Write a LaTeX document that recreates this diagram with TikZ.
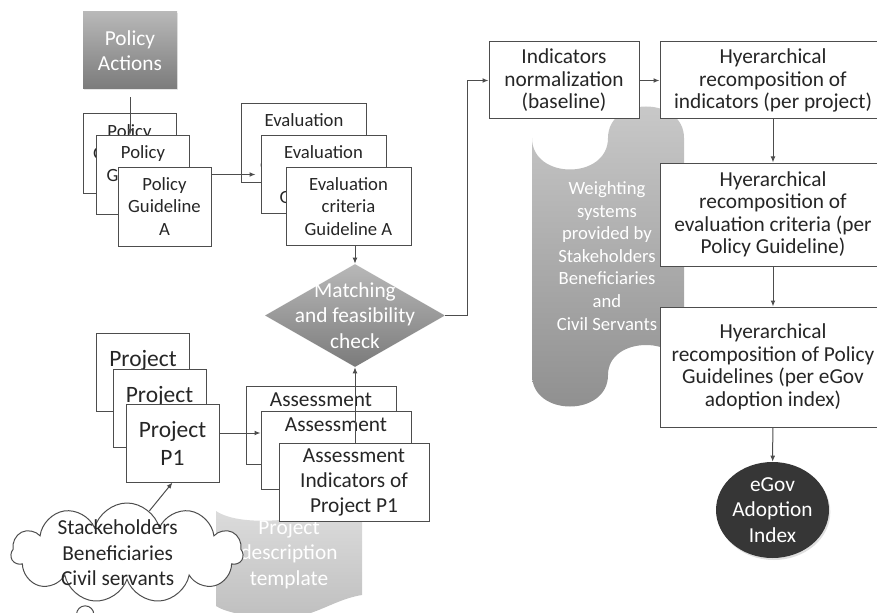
\documentclass[tikz,border=0pt]{standalone}
\usepackage{fontspec}
\setmainfont{Carlito}
\usetikzlibrary{shapes.geometric,shapes.symbols,shapes.callouts,arrows.meta,shadows}
\definecolor{edgegray}{HTML}{4D4D4D}
\definecolor{inkgray}{HTML}{262626}
\definecolor{padtop}{HTML}{B8B8B8}
\definecolor{padbot}{HTML}{7B7B7B}
\definecolor{wgttop}{HTML}{CACACA}
\definecolor{wgtbot}{HTML}{8E8E8E}
\definecolor{tpltop}{HTML}{DDDDDD}
\definecolor{tplbot}{HTML}{BEBEBE}
\definecolor{egovfill}{HTML}{363636}
\tikzset{
  pbox/.style={draw=edgegray, fill=white, line width=0.75pt, inner sep=0pt, align=center, text=inkgray},
  smalltxt/.style={font=\fontsize{14}{16.9}\selectfont},
  midtxt/.style={font=\fontsize{16}{19.1}\selectfont},
  tighttxt/.style={font=\fontsize{16}{16.9}\selectfont},
  bigtxt/.style={font=\fontsize{17.6}{21}\selectfont},
  polbox/.style={pbox, smalltxt, minimum width=69.75pt, minimum height=59.25pt},
  evalbox/.style={pbox, smalltxt, minimum width=93.75pt, minimum height=58.5pt},
  projbox/.style={pbox, bigtxt, minimum width=69.75pt, minimum height=58.5pt},
  assessbox/.style={pbox, midtxt, minimum width=112.5pt, minimum height=58.5pt},
  recbox/.style={pbox, tighttxt, minimum width=169.5pt},
  whitetxt/.style={midtxt, text=white, align=center},
  flow/.style={draw=edgegray, line width=0.75pt, -{Latex[length=4.5pt,width=3.6pt]}}
}

\begin{document}
\begin{tikzpicture}[x=0.75pt,y=-0.75pt]
\useasboundingbox (0,0) rectangle (877,613);
\clip (0,0) rectangle (877,613);
\shade[top color=wgttop, bottom color=wgtbot] (532,138) .. controls (532,180) and (608,180) .. (608,138) .. controls (608,96) and (684,96) .. (684,138) -- (684,375) .. controls (684,335) and (608,335) .. (608,375) .. controls (608,417) and (532,417) .. (532,375) -- cycle;
\node[whitetxt, smalltxt] (ws) at (607,256) {Weighting\\systems\\provided by\\Stakeholders\\Beneficiaries\\and\\Civil Servants};
\shade[top color=tpltop, bottom color=tplbot] (216,511) .. controls (240,527) and (300,522) .. (362,505) -- (362,595) .. controls (330,600) and (310,622) .. (270,618) .. controls (245,616) and (225,612) .. (216,606) -- cycle;
\node[whitetxt] (pd) at (289,554) {Project\\description\\template};

\node[pbox, midtxt, draw=none, text=white, top color=padtop, bottom color=padbot, minimum width=70.5pt, minimum height=57.75pt, drop shadow={opacity=0.2, shadow xshift=1pt, shadow yshift=-1pt}] (pa) at (130,50.5) {Policy\\Actions};
\node[polbox] (pg3) at (129.5,153.5) {Policy\\Guideline\\~};
\node[polbox] (pg2) at (143,175) {Policy\\Guideline\\~};
\node[polbox] (pg1) at (164.5,206.5) {Policy\\Guideline\\A};
\node[evalbox] (ev3) at (304,143) {Evaluation\\criteria\\Guideline\phantom{ A}};
\node[evalbox] (ev2) at (323.5,174.5) {Evaluation\\criteria\\Guideline\phantom{ A}};
\node[evalbox] (ev1) at (348.5,206.5) {Evaluation\\criteria\\Guideline A};
\node[diamond, top color=padtop, bottom color=padbot, minimum width=135pt, minimum height=77.25pt, inner sep=0pt, label={[whitetxt]center:Matching\\and feasibility\\check}] (dm) at (355,315.5) {};

\node[projbox] (pr3) at (143,372) {Project\\~};
\node[projbox] (pr2) at (159.5,408) {Project\\~};
\node[projbox] (pr1) at (172.5,443) {Project\\P1};
\node[assessbox] (as3) at (321,425.5) {Assessment\\~\\~};
\node[assessbox] (as2) at (336,450.5) {Assessment\\~\\~};
\node[assessbox] (as1) at (354,482.5) {Assessment\\Indicators of\\Project P1};

\node[pbox, tighttxt, minimum width=112.5pt, minimum height=57.75pt] (ino) at (564,80.5) {Indicators\\normalization\\(baseline)};
\node[recbox, minimum height=57.75pt] (hr1) at (773,80.5) {Hyerarchical\\recomposition of\\indicators (per project)};
\node[recbox, minimum height=77.25pt] (hr2) at (773,214.5) {Hyerarchical\\recomposition of\\evaluation criteria (per\\Policy Guideline)};
\node[recbox, minimum height=90pt] (hr3) at (773,367) {Hyerarchical\\recomposition of Policy\\Guidelines (per eGov\\adoption index)};
\node[ellipse, fill=egovfill, minimum width=84.75pt, minimum height=72pt, inner sep=0pt, drop shadow={opacity=0.25, shadow xshift=1pt, shadow yshift=-1.5pt}, label={[whitetxt]center:eGov\\Adoption\\Index}] (eg) at (772.5,510) {};

\coordinate (tail) at (76,628);
\node[cloud callout, cloud puffs=11, cloud ignores aspect, draw=edgegray, fill=white, line width=0.75pt, inner sep=0pt, minimum width=174pt, minimum height=75pt, callout absolute pointer={(tail)}, callout pointer start size=16pt, callout pointer end size=10pt, callout pointer segments=2, label={[midtxt, text=inkgray, align=center, xshift=-7pt]center:Stackeholders\\Beneficiaries\\Civil servants}] (sh) at (127,553) {};

\draw[flow, shorten <=6pt] (pa.south) -- (pa.south |- pg2.north);
\draw[flow, shorten >=3.75pt] (pg1.east |- ev2.west) -- (ev2.west);
\draw[flow] (ev1.south -| dm.north) -- (dm.north);
\draw[flow] (as1.north -| dm.south) -- (dm.south);
\draw[flow] (dm.east) -- ++(22,0) |- (ino.west);
\draw[flow] (ino) -- (hr1);
\draw[flow] (hr1) -- (hr2);
\draw[flow] (hr2) -- (hr3);
\draw[flow] (hr3) -- (eg);
\coordinate (prout) at ([yshift=7.5pt]pr1.east);
\draw[flow] (prout) -- (prout -| as2.west);
\draw[flow] (sh.62) -- (pr1.south);
\end{tikzpicture}
\end{document}
